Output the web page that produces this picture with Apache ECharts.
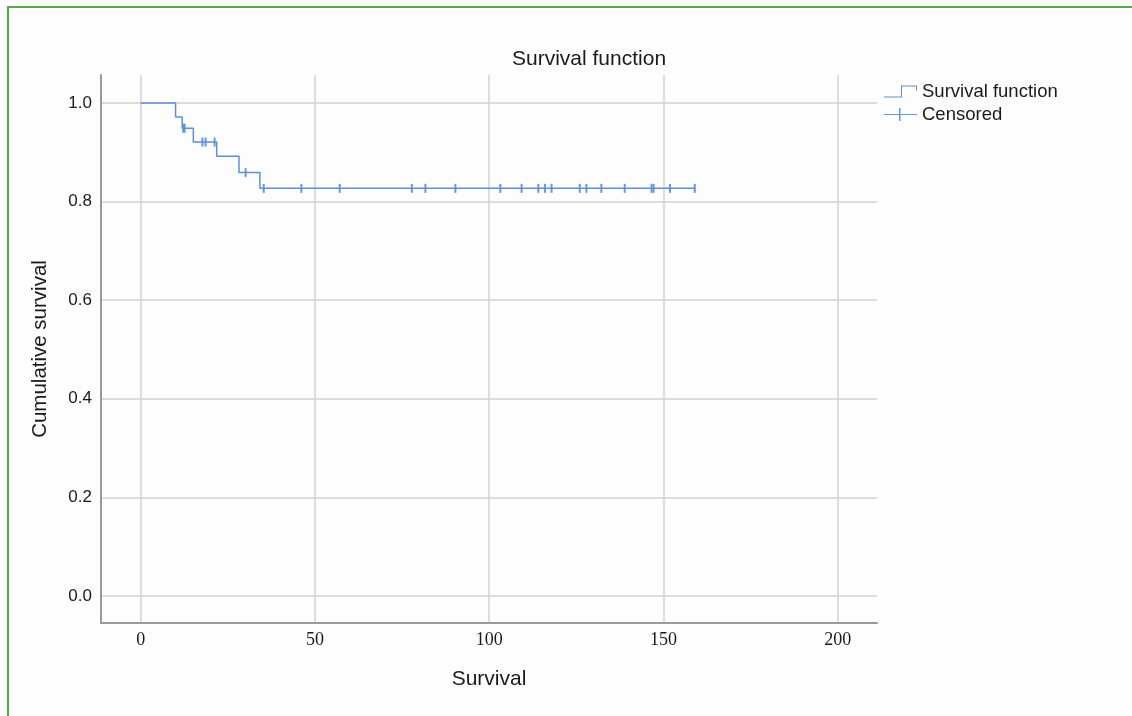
<!DOCTYPE html>
<html>
<head>
<meta charset="utf-8">
<script src="https://cdn.jsdelivr.net/npm/echarts@6/dist/echarts.min.js"></script>
<style>
html,body{margin:0;padding:0;background:#fdfdfd;}
#frame{position:absolute;left:7px;top:6px;width:1125px;height:710px;border-left:2px solid #58ac48;border-top:2px solid #58ac48;pointer-events:none;z-index:2;}
#chart{position:absolute;left:0;top:0;width:1132px;height:716px;}
</style>
</head>
<body>
<div id="chart"></div>
<div id="frame"></div>
<script>
// Step points of the survival function (time, cumulative survival)
const stepTimes = [0, 10.0, 11.9, 15.1, 21.8, 28.2, 34.2, 159.0];
const stepSurvival = [1.0, 0.972, 0.949, 0.921, 0.892, 0.859, 0.827, 0.827];
// Censored observations
const censorTimes = [12.2, 12.6, 17.7, 18.6, 21.2, 30.1, 35.3, 46.1, 57.1, 77.8, 81.7, 90.3, 103.2, 109.3, 114.1, 116.0, 117.9, 126.0, 127.9, 132.2, 138.9, 146.6, 147.2, 151.9, 159.0];
const censorSurvival = [0.949, 0.949, 0.921, 0.921, 0.921, 0.859, 0.827, 0.827, 0.827, 0.827, 0.827, 0.827, 0.827, 0.827, 0.827, 0.827, 0.827, 0.827, 0.827, 0.827, 0.827, 0.827, 0.827, 0.827, 0.827];
// Axis ticks
const xTicks = [0, 50, 100, 150, 200];
const yTicks = [0, 0.2, 0.4, 0.6, 0.8, 1.0];

const lineColor = '#5b8fd9';
const chart = echarts.init(document.getElementById('chart'));
chart.setOption({
  backgroundColor: '#fdfdfd',
  animation: false,
  title: {
    text: 'Survival function',
    left: 507, top: 44,
    textStyle: {fontFamily: 'Liberation Sans', fontSize: 21, fontWeight: 'normal', color: '#1a1a1a'}
  },
  legend: {
    orient: 'vertical',
    left: 879, top: 77,
    itemWidth: 33, itemHeight: 13, itemGap: 4,
    textStyle: {fontFamily: 'Liberation Sans', fontSize: 18.5, color: '#1a1a1a'},
    data: [
      {name: 'Survival function', icon: 'path://M0,12 L18,12 L18,1 L32,1 L32,5 L33,5 L33,0 L17,0 L17,11 L0,11 Z'},
      {name: 'Censored', icon: 'path://M0,6 L15,6 L15,0 L16.5,0 L16.5,6 L33,6 L33,7 L16.5,7 L16.5,13 L15,13 L15,7 L0,7 Z'}
    ]
  },
  grid: {left: 101, right: 255, top: 75, bottom: 93},
  xAxis: {
    type: 'value',
    min: -11.4, max: 211.3,
    name: 'Survival', nameLocation: 'middle', nameGap: 46,
    nameTextStyle: {fontFamily: 'Liberation Sans', fontSize: 21, color: '#1a1a1a'},
    axisLine: {show: true, onZero: false, lineStyle: {color: '#9a9a9a', width: 2}},
    axisTick: {show: false, customValues: xTicks},
    axisLabel: {customValues: xTicks, margin: 8, fontFamily: 'Liberation Serif', fontSize: 18, color: '#1a1a1a'},
    splitLine: {show: true, lineStyle: {color: '#d2d2d2', width: 1.5}}
  },
  yAxis: {
    type: 'value',
    min: -0.055, max: 1.057,
    name: 'Cumulative survival', nameLocation: 'middle', nameGap: 50,
    nameTextStyle: {fontFamily: 'Liberation Sans', fontSize: 20.5, color: '#1a1a1a'},
    axisLine: {show: true, onZero: false, lineStyle: {color: '#9a9a9a', width: 2}},
    axisTick: {show: false, customValues: yTicks},
    axisLabel: {customValues: yTicks, margin: 9, padding: [7, 0, 0, 0], fontFamily: 'Liberation Sans', fontSize: 17, color: '#1a1a1a',
      formatter: v => v.toFixed(1)},
    splitLine: {show: true, lineStyle: {color: '#d2d2d2', width: 1.5}}
  },
  series: [
    {
      name: 'Survival function',
      type: 'line',
      step: 'end',
      showSymbol: false,
      symbol: 'none',
      color: lineColor,
      lineStyle: {color: lineColor, width: 1.5},
      data: stepTimes.map((t, i) => [t, stepSurvival[i]])
    },
    {
      name: 'Censored',
      type: 'scatter',
      symbol: 'rect',
      symbolSize: [2, 9],
      color: '#4f86d4',
      itemStyle: {color: '#4f86d4', opacity: 0.85},
      data: censorTimes.map((t, i) => [t, censorSurvival[i]])
    }
  ]
});
</script>
</body>
</html>
